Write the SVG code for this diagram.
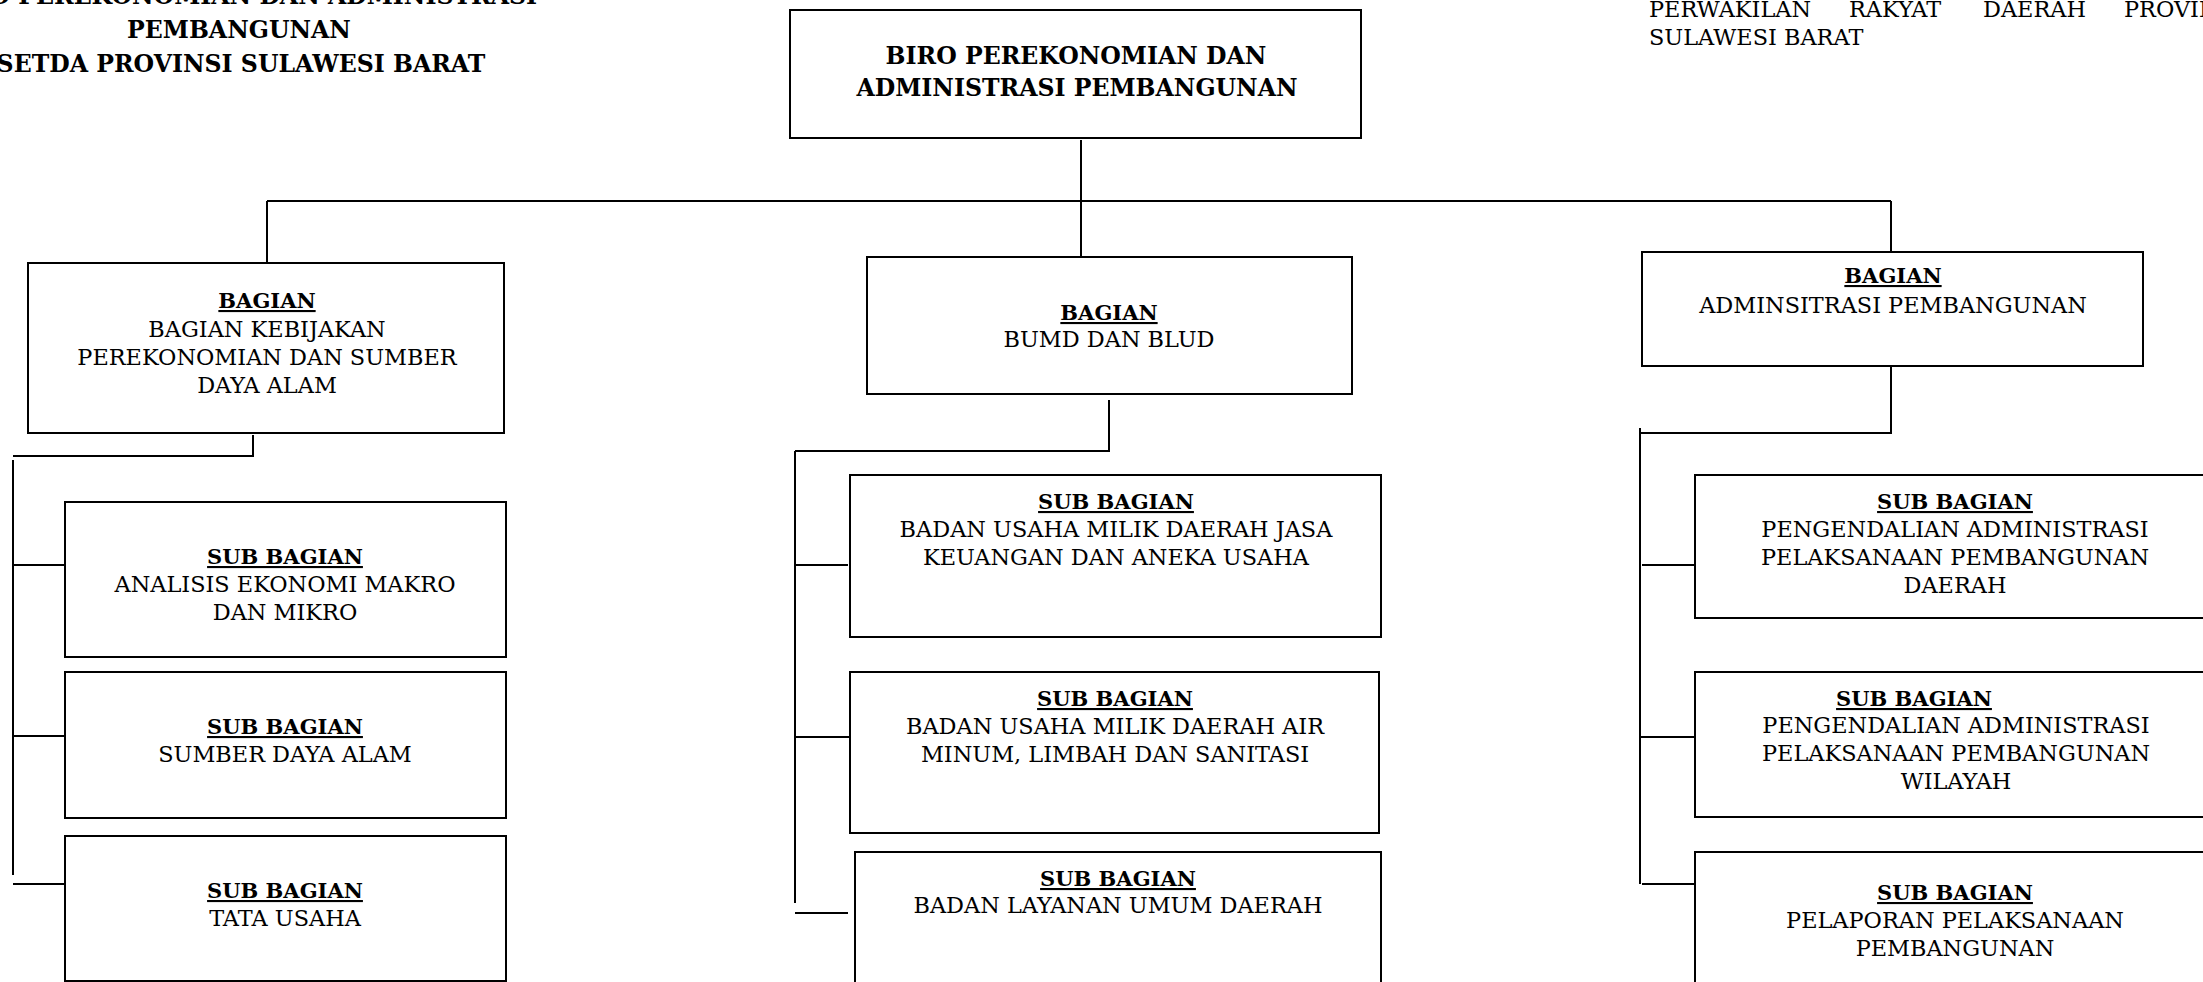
<svg xmlns="http://www.w3.org/2000/svg" width="2203" height="982" viewBox="0 0 2203 982">
<style>
.box{fill:#fff;stroke:#000;stroke-width:2}
.ln{fill:none;stroke:#000;stroke-width:2}
.h{font-family:"DejaVu Serif",serif;font-weight:bold;font-size:21px;text-anchor:middle;text-decoration:underline;fill:#000}
.t{font-family:"DejaVu Serif",serif;font-size:22.4px;text-anchor:middle;fill:#000}
.b{font-family:"DejaVu Serif",serif;font-weight:bold;font-size:23.6px;text-anchor:middle;fill:#000}
.r{font-family:"DejaVu Serif",serif;font-size:22.4px;fill:#000}
</style>
<rect width="2203" height="982" fill="#fff"/>
<g id="title">
<text class="b" x="238" y="4">BIRO PEREKONOMIAN DAN ADMINISTRASI</text>
<text class="b" x="239" y="38">PEMBANGUNAN</text>
<text class="b" x="241" y="72">SETDA PROVINSI SULAWESI BARAT</text>
</g>
<g id="note">
<text class="r" y="17"><tspan x="1649">PERWAKILAN</tspan><tspan x="1849">RAKYAT</tspan><tspan x="1983">DAERAH</tspan><tspan x="2124">PROVINSI</tspan></text>
<text class="r" x="1649" y="45">SULAWESI BARAT</text>
</g>
<g id="connectors">
<path class="ln" d="M1081 140V257"/>
<path class="ln" d="M267 201H1891"/>
<path class="ln" d="M267 201V263"/>
<path class="ln" d="M1891 201V251"/>
<path class="ln" d="M253 435V456H13"/>
<path class="ln" d="M13 460V875"/>
<path class="ln" d="M13 565H65M13 736H65M13 884H65"/>
<path class="ln" d="M1109 400V451H795"/>
<path class="ln" d="M795 451V903"/>
<path class="ln" d="M795 565H848M795 737H850M795 913H848"/>
<path class="ln" d="M1891 367V433H1640"/>
<path class="ln" d="M1640 428V884"/>
<path class="ln" d="M1642 565H1695M1640 737H1695M1642 884H1695"/>
</g>
<g id="biro">
<rect class="box" x="790" y="10" width="571" height="128"/>
<text class="b" x="1076" y="64">BIRO PEREKONOMIAN DAN</text>
<text class="b" x="1077" y="96">ADMINISTRASI PEMBANGUNAN</text>
</g>
<g id="bagian-kebijakan">
<rect class="box" x="28" y="263" width="476" height="170"/>
<text class="h" x="267" y="308">BAGIAN</text>
<text class="t" x="267" y="337">BAGIAN KEBIJAKAN</text>
<text class="t" x="267" y="365">PEREKONOMIAN DAN SUMBER</text>
<text class="t" x="267" y="393">DAYA ALAM</text>
</g>
<g id="bagian-bumd">
<rect class="box" x="867" y="257" width="485" height="137"/>
<text class="h" x="1109" y="320">BAGIAN</text>
<text class="t" x="1109" y="347">BUMD DAN BLUD</text>
</g>
<g id="bagian-adm">
<rect class="box" x="1642" y="252" width="501" height="114"/>
<text class="h" x="1893" y="283">BAGIAN</text>
<text class="t" x="1893" y="313">ADMINSITRASI PEMBANGUNAN</text>
</g>
<g id="sub-makro">
<rect class="box" x="65" y="502" width="441" height="155"/>
<text class="h" x="285" y="564">SUB BAGIAN</text>
<text class="t" x="285" y="592">ANALISIS EKONOMI MAKRO</text>
<text class="t" x="285" y="620">DAN MIKRO</text>
</g>
<g id="sub-sda">
<rect class="box" x="65" y="672" width="441" height="146"/>
<text class="h" x="285" y="734">SUB BAGIAN</text>
<text class="t" x="285" y="762">SUMBER DAYA ALAM</text>
</g>
<g id="sub-tu">
<rect class="box" x="65" y="836" width="441" height="145"/>
<text class="h" x="285" y="898">SUB BAGIAN</text>
<text class="t" x="285" y="926">TATA USAHA</text>
</g>
<g id="sub-jasa">
<rect class="box" x="850" y="475" width="531" height="162"/>
<text class="h" x="1116" y="509">SUB BAGIAN</text>
<text class="t" x="1116" y="537">BADAN USAHA MILIK DAERAH JASA</text>
<text class="t" x="1116" y="565">KEUANGAN DAN ANEKA USAHA</text>
</g>
<g id="sub-air">
<rect class="box" x="850" y="672" width="529" height="161"/>
<text class="h" x="1115" y="706">SUB BAGIAN</text>
<text class="t" x="1115" y="734">BADAN USAHA MILIK DAERAH AIR</text>
<text class="t" x="1115" y="762">MINUM, LIMBAH DAN SANITASI</text>
</g>
<g id="sub-blud">
<rect class="box" x="855" y="852" width="526" height="150"/>
<text class="h" x="1118" y="886">SUB BAGIAN</text>
<text class="t" x="1118" y="913">BADAN LAYANAN UMUM DAERAH</text>
</g>
<g id="sub-daerah">
<rect class="box" x="1695" y="475" width="525" height="143"/>
<text class="h" x="1955" y="509">SUB BAGIAN</text>
<text class="t" x="1955" y="537">PENGENDALIAN ADMINISTRASI</text>
<text class="t" x="1955" y="565">PELAKSANAAN PEMBANGUNAN</text>
<text class="t" x="1955" y="593">DAERAH</text>
</g>
<g id="sub-wilayah">
<rect class="box" x="1695" y="672" width="525" height="145"/>
<text class="h" x="1914" y="706">SUB BAGIAN</text>
<text class="t" x="1956" y="733">PENGENDALIAN ADMINISTRASI</text>
<text class="t" x="1956" y="761">PELAKSANAAN PEMBANGUNAN</text>
<text class="t" x="1956" y="789">WILAYAH</text>
</g>
<g id="sub-pelaporan">
<rect class="box" x="1695" y="852" width="525" height="150"/>
<text class="h" x="1955" y="900">SUB BAGIAN</text>
<text class="t" x="1955" y="928">PELAPORAN PELAKSANAAN</text>
<text class="t" x="1955" y="956">PEMBANGUNAN</text>
</g>
</svg>
